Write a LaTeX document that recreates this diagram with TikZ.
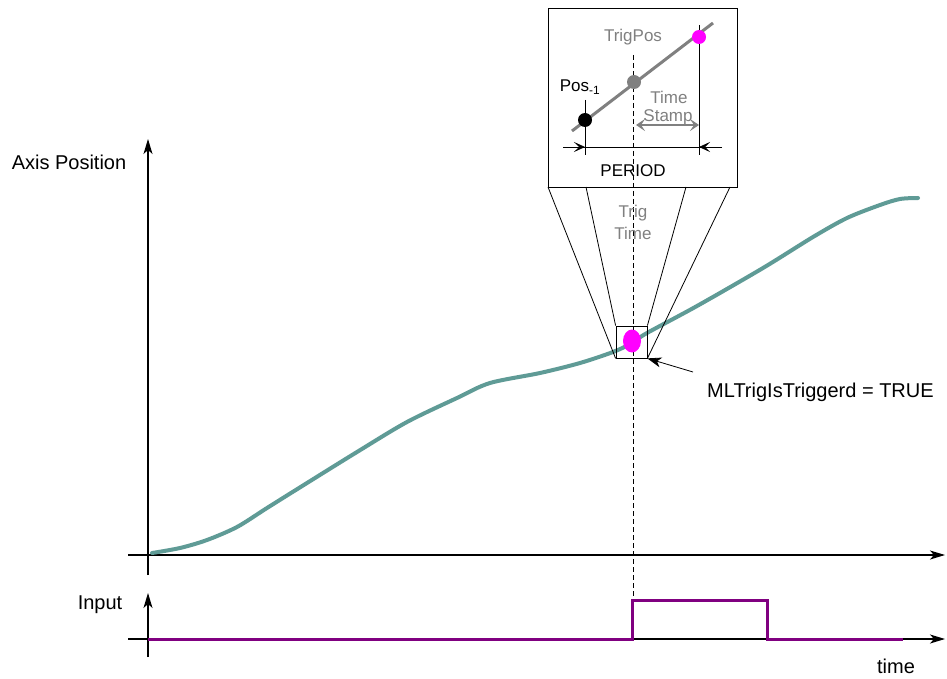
\documentclass[tikz,border=0pt]{standalone}
\usepackage{fontspec}
\setmainfont{Liberation Sans}
\usetikzlibrary{arrows.meta}
\definecolor{curveteal}{RGB}{95,155,150}
\definecolor{sigpurple}{RGB}{128,0,128}
\definecolor{lblgray}{RGB}{128,128,128}
\definecolor{dotmagenta}{RGB}{255,0,255}
\begin{document}
\begin{tikzpicture}[x=1pt,y=-1pt,
  axisline/.style={line width=1.1pt,-{Stealth[length=15pt,width=9pt,inset=4pt]}},
  biglbl/.style={font=\fontsize{20}{22}\selectfont,inner sep=0pt},
  smalllbl/.style={font=\fontsize{17}{19}\selectfont,inner sep=0pt},
  graylbl/.style={smalllbl,text=lblgray},
  thin1/.style={line width=0.8pt},
  dot/.style={circle,inner sep=0pt,minimum size=14pt}]
\useasboundingbox (0,0) rectangle (947,679);
% axes
\coordinate (ya0) at (148,575); \coordinate (ya1) at (148,139);
\coordinate (xa0) at (128,555); \coordinate (xa1) at (945,555);
\coordinate (yb0) at (148,657); \coordinate (yb1) at (148,593);
\coordinate (xb0) at (128,639); \coordinate (xb1) at (945,639);
\draw[axisline] (ya0) -- (ya1);
\draw[axisline] (xa0) -- (xa1);
\draw[axisline] (yb0) -- (yb1);
\draw[axisline] (xb0) -- (xb1);
\node[biglbl] (axislbl) at (69,162) {Axis Position};
\node[biglbl] (inputlbl) at (100,605) {Input};
\node[biglbl] (timelbl) at (896,666) {time};
% dashed trigger line
\coordinate (d0) at (633,55); \coordinate (d1) at (633,600);
\draw[thin1,dashed,dash pattern=on 5pt off 3pt] (d0) -- (d1);
% curve
\draw[curveteal,line width=4pt,line cap=round] plot[smooth,tension=0.5] coordinates {
 (152,553) (180,548) (207,540) (237,527) (267,508) (307,483) (357,452) (407,422)
 (457,398) (490,383) (540,373) (580,363) (613,352) (630,344) (647,333) (697,306)
 (763,268) (813,237) (847,218) (880,205) (900,199) (918,198)};
% input signal
\draw[sigpurple,line width=3pt] (148,639) -- (632,639) -- (632,600) -- (767,600) -- (767,639) -- (903,639);
% small box and magenta dot
\node[draw,thin1,minimum width=31pt,minimum height=32pt,inner sep=0pt] (sbox) at (631.5,342) {};
\fill[dotmagenta] (632,341) ellipse [x radius=9pt,y radius=11.5pt];
% inset box
\node[draw,thin1,fill=white,minimum width=189pt,minimum height=179pt,inner sep=0pt] (ibox) at (642.5,97.5) {};
\draw[thin1,dashed,dash pattern=on 5pt off 3pt] (633,55) -- (633,187);
% zoom lines
\coordinate (z1) at (548,187); \coordinate (z2) at (586,187);
\coordinate (z3) at (686,187); \coordinate (z4) at (730,187);
\draw[thin1] (z1) -- (sbox.south west);
\draw[thin1] (z2) -- (sbox.north west);
\draw[thin1] (z3) -- (sbox.north east);
\draw[thin1] (z4) -- (sbox.south east);
% inset content
\coordinate (g0) at (572,131); \coordinate (g1) at (713,23);
\draw[lblgray,line width=3pt] (g0) -- (g1);
\coordinate (v1a) at (585,100); \coordinate (v1b) at (585,155);
\coordinate (v2a) at (699,25); \coordinate (v2b) at (699,155);
\draw[thin1] (v1a) -- (v1b);
\draw[thin1] (v2a) -- (v2b);
\node[dot,fill=black] (pprev) at (585,120) {};
\node[dot,fill=lblgray] (ptrig) at (634,82) {};
\node[dot,fill=dotmagenta] (pnext) at (699,37) {};
\coordinate (pl) at (563,147); \coordinate (pr) at (722,147);
\draw[thin1] (pl) -- (pr);
\draw[thin1,-{Stealth[length=11pt,width=10pt,inset=5pt]}] (pl) -- (585,147);
\draw[thin1,-{Stealth[length=11pt,width=10pt,inset=5pt]}] (pr) -- (699,147);
\node[smalllbl] (periodlbl) at (633,171) {PERIOD};
\coordinate (ts0) at (636,125); \coordinate (ts1) at (699,125);
\draw[lblgray,line width=2.5pt,{Stealth[length=9pt,width=12pt,inset=4pt]}-{Stealth[length=9pt,width=12pt,inset=4pt]}] (ts0) -- (ts1);
\node[graylbl] (tslbl1) at (669,97) {Time};
\node[graylbl] (tslbl2) at (668,117) {Stamp};
\node[graylbl] (trigposlbl) at (633,37) {TrigPos};
\node[smalllbl] (poslbl) at (580,87) {Pos\textsubscript{-1}};
\node[graylbl] (trigtime1) at (633,213) {Trig};
\node[graylbl] (trigtime2) at (633,233) {Time};
% triggered label
\node[biglbl,anchor=west] (mllbl) at (707,392) {MLTrigIsTriggerd = TRUE};
\coordinate (mlstart) at (693,372);
\draw[thin1,-{Stealth[length=14pt,width=10pt,inset=4pt]}] (mlstart) -- (sbox.south east);
\end{tikzpicture}
\end{document}
